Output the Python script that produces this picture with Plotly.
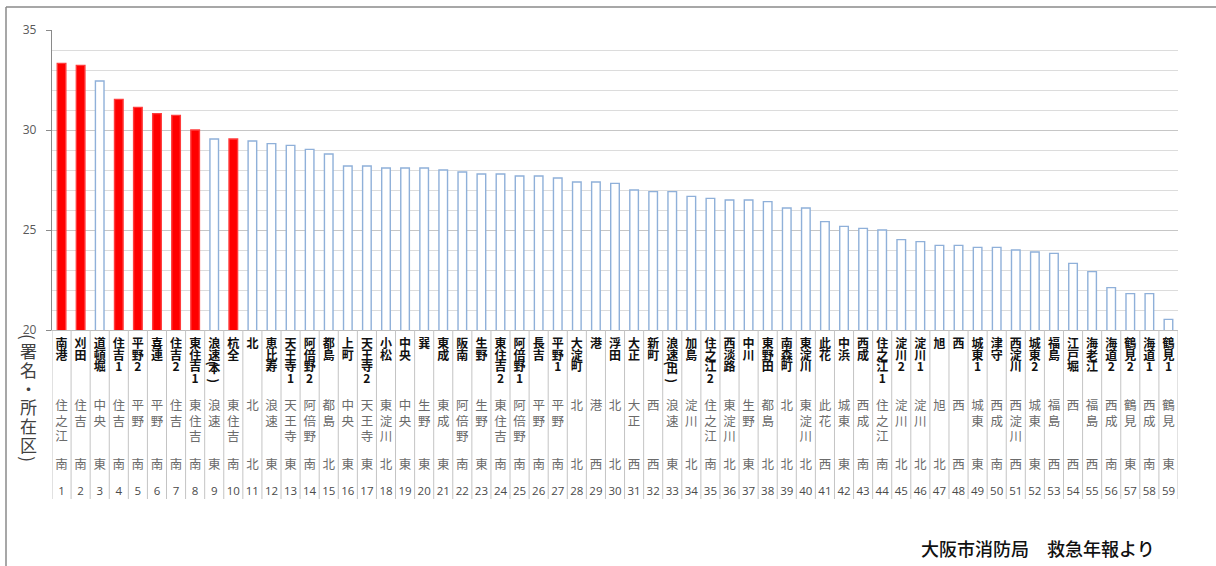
import plotly.graph_objects as go

# ---------------- data ----------------
no = list(range(1, 60))
stations = ["南港", "刈田", "道頓堀", "住吉1", "平野2", "喜連", "住吉2", "東住吉1", "浪速(本)", "杭全",
            "北", "恵比寿", "天王寺1", "阿倍野2", "都島", "上町", "天王寺2", "小松", "中央", "巽",
            "東成", "阪南", "生野", "東住吉2", "阿倍野1", "長吉", "平野1", "大淀町", "港", "浮田",
            "大正", "新町", "浪速(出)", "加島", "住之江2", "西淡路", "中川", "東野田", "南森町", "東淀川",
            "此花", "中浜", "西成", "住之江1", "淀川2", "淀川1", "旭", "西", "城東1", "津守",
            "西淀川", "城東2", "福島", "江戸堀", "海老江", "海道2", "鶴見2", "海道1", "鶴見1"]
wards = ["住之江", "住吉", "中央", "住吉", "平野", "平野", "住吉", "東住吉", "浪速", "東住吉",
         "北", "浪速", "天王寺", "阿倍野", "都島", "中央", "天王寺", "東淀川", "中央", "生野",
         "東成", "阿倍野", "生野", "東住吉", "阿倍野", "平野", "平野", "北", "港", "北",
         "大正", "西", "浪速", "淀川", "住之江", "東淀川", "生野", "都島", "北", "東淀川",
         "此花", "城東", "西成", "住之江", "淀川", "淀川", "旭", "西", "城東", "西成",
         "西淀川", "城東", "福島", "西", "福島", "西成", "鶴見", "西成", "鶴見"]
areas = ["南", "南", "東", "南", "南", "南", "南", "南", "東", "南",
         "北", "東", "東", "南", "北", "東", "東", "北", "東", "東",
         "東", "南", "東", "南", "南", "南", "南", "北", "西", "北",
         "西", "西", "東", "北", "南", "北", "東", "北", "北", "北",
         "西", "東", "南", "南", "北", "北", "北", "西", "東", "南",
         "西", "東", "西", "西", "西", "南", "東", "南", "東"]
values = [33.33, 33.23, 32.45, 31.53, 31.13, 30.82, 30.73, 30.00, 29.55, 29.55,
          29.45, 29.32, 29.23, 29.03, 28.80, 28.20, 28.20, 28.10, 28.10, 28.10,
          28.00, 27.90, 27.80, 27.80, 27.70, 27.70, 27.60, 27.40, 27.40, 27.33,
          27.00, 26.92, 26.92, 26.68, 26.58, 26.50, 26.50, 26.42, 26.10, 26.10,
          25.42, 25.18, 25.08, 25.00, 24.52, 24.42, 24.23, 24.23, 24.13, 24.13,
          24.00, 23.90, 23.83, 23.33, 22.92, 22.12, 21.82, 21.82, 20.53]
highlight = [1, 2, 4, 5, 6, 7, 8, 10]
y_ticks = [20, 25, 30, 35]
axis_title = "(署名・所在区)"
source = "大阪市消防局　救急年報より"

# ---------------- layout geometry (pixels) ----------------
W, H = 1216, 566
L, R, T, B = 52, 38, 30, 67
PH = H - T - B
LABEL_H = 169                     # height of the label table under the bars
dsplit = LABEL_H / PH
CJK = "Noto Sans CJK JP"


def px_x(px):
    return (px - L) / (W - L - R)


def px_y(py):
    return (H - B - py) / PH


def stack(s, start, pitch, open_back=0.45, close_back=0.1, paren_adv=0.6):
    """positions for vertically stacked characters (parentheses set vertically, compact)"""
    out = []
    pos = start
    for ch in s:
        if ch == "(":
            c = pos - open_back * pitch
            out.append((ch, c))
            pos = c + paren_adv * pitch
        elif ch == ")":
            c = pos - close_back * pitch
            out.append((ch, c))
            pos = c + paren_adv * pitch
        else:
            out.append((ch, pos))
            pos += pitch
    return out


fig = go.Figure()

bar_fill = ["#ff0000" if n in highlight else "#ffffff" for n in no]
bar_line = ["#ff3c3c" if n in highlight else "#8fb0d9" for n in no]
fig.add_trace(go.Bar(
    x=no, y=values, width=0.45,
    marker=dict(color=bar_fill, line=dict(color=bar_line, width=1.4)),
    hoverinfo="skip", xaxis="x", yaxis="y"))

# separators of the label table
sx, sy = [], []
for k in range(len(no) + 1):
    xv = 0.5 + k
    sx += [xv, xv, None]
    sy += [0, LABEL_H, None]
fig.add_trace(go.Scatter(x=sx, y=sy, mode="lines", line=dict(color="#c4c4c4", width=1),
                         hoverinfo="skip", xaxis="x2", yaxis="y2"))

annotations = []

# station names (bold); parentheses are drawn rotated as annotations
tx, ty, tt = [], [], []
for n, s in zip(no, stations):
    for ch, p in stack(s, 15, 11.7):
        if ch in "()":
            annotations.append(dict(text=ch, x=n, y=p, xref="x2", yref="y2", showarrow=False,
                                    textangle=90, xanchor="center", yanchor="middle",
                                    font=dict(family=CJK, size=12, color="#111111", weight="bold")))
        else:
            tx.append(n); ty.append(p); tt.append(ch)
fig.add_trace(go.Scatter(x=tx, y=ty, text=tt, mode="text", textposition="middle center",
                         textfont=dict(family=CJK, size=12, color="#111111", weight="bold"),
                         cliponaxis=False, hoverinfo="skip", xaxis="x2", yaxis="y2"))

# ward names
tx, ty, tt = [], [], []
for n, s in zip(no, wards):
    for ch, p in stack(s, 77, 15.5):
        tx.append(n); ty.append(p); tt.append(ch)
fig.add_trace(go.Scatter(x=tx, y=ty, text=tt, mode="text", textposition="middle center",
                         textfont=dict(family=CJK, size=12.5, color="#6b6b6b"),
                         cliponaxis=False, hoverinfo="skip", xaxis="x2", yaxis="y2"))

# area
fig.add_trace(go.Scatter(x=no, y=[136] * len(no), text=areas, mode="text", textposition="middle center",
                         textfont=dict(family=CJK, size=12.5, color="#6b6b6b"),
                         cliponaxis=False, hoverinfo="skip", xaxis="x2", yaxis="y2"))

# numbers
fig.add_trace(go.Scatter(x=no, y=[162] * len(no), text=[str(n) for n in no], mode="text",
                         textposition="middle center",
                         textfont=dict(family="Open Sans", size=11.5, color="#4a4a4a"),
                         cliponaxis=False, hoverinfo="skip", xaxis="x2", yaxis="y2"))

# vertical axis title (upright characters stacked, parentheses rotated)
for ch, p in stack(axis_title, 344, 18.8, open_back=0.4, close_back=0.25, paren_adv=0.75):
    annotations.append(dict(text=ch, x=px_x(28.5), y=px_y(p), xref="paper", yref="paper",
                            showarrow=False, xanchor="center", yanchor="middle",
                            textangle=90 if ch in "()" else 0,
                            font=dict(family=CJK, size=17, color="#404040")))
annotations.append(dict(text=source, x=px_x(1038), y=px_y(548), xref="paper", yref="paper",
                        showarrow=False, xanchor="center", yanchor="middle",
                        font=dict(family=CJK, size=18, color="#111111", weight=500)))

shapes = [
    dict(type="line", xref="paper", yref="paper", x0=px_x(6), x1=px_x(6), y0=px_y(7), y1=px_y(H + 2),
         line=dict(color="#8a8a8a", width=1.5)),
    dict(type="line", xref="paper", yref="paper", x0=px_x(6), x1=px_x(W + 2), y0=px_y(7), y1=px_y(7),
         line=dict(color="#8a8a8a", width=1.5)),
]

fig.update_layout(
    width=W, height=H,
    margin=dict(l=L, r=R, t=T, b=B, pad=0),
    paper_bgcolor="white", plot_bgcolor="white",
    showlegend=False, bargap=0.5,
    xaxis=dict(domain=[0, 1], range=[0.5, 59.5], anchor="y", showticklabels=False, ticks="",
               showgrid=False, zeroline=False, showline=True, linecolor="#bdbdbd", linewidth=1),
    yaxis=dict(domain=[dsplit, 1], range=[20, 35], anchor="x", tickvals=y_ticks,
               ticks="outside", ticklen=5, tickcolor="#8a8a8a", tickwidth=1,
               showline=True, linecolor="#8a8a8a", linewidth=1.3,
               showgrid=True, gridcolor="#c6c6c6", gridwidth=1, zeroline=False,
               minor=dict(dtick=1, tick0=20, showgrid=True, gridcolor="#dcdcdc", gridwidth=1, ticks=""),
               tickfont=dict(family="Open Sans", size=12, color="#595959"), ticklabelstandoff=7),
    xaxis2=dict(domain=[0, 1], range=[0.5, 59.5], anchor="y2", visible=False),
    yaxis2=dict(domain=[0, dsplit], range=[LABEL_H, 0], anchor="x2", visible=False),
    annotations=annotations, shapes=shapes,
)

fig.write_html("out.html", config={"displayModeBar": False},
               post_script="document.body.style.margin='0';document.body.style.overflow='hidden';")
